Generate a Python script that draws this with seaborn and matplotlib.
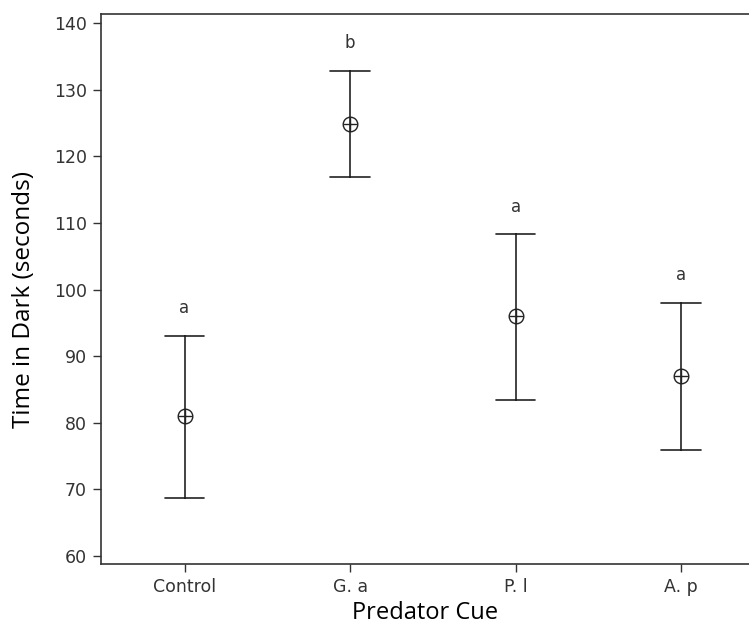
import numpy as np
import pandas as pd
import matplotlib
matplotlib.use("Agg")
import matplotlib.pyplot as plt
import seaborn as sns

# Data
cues = ["Control", "G. a", "P. l", "A. p"]
means = [81.0, 124.9, 96.0, 87.0]
lower = [68.7, 116.9, 83.5, 75.9]
upper = [93.1, 132.9, 108.3, 98.0]
letters = ["a", "b", "a", "a"]

# long format: lower / mean / upper per cue -> median = mean, full range = interval
df = pd.DataFrame({
    "cue": np.repeat(cues, 3),
    "time": np.ravel(np.column_stack([lower, means, upper])),
})

sns.set_style("white")
plt.rcParams["font.family"] = ["DejaVu Sans"]

fig = plt.figure(figsize=(7.49, 6.35), dpi=100)
ax = fig.add_axes([0.1348, 0.1118, 0.8652, 0.8662])

ink = "#222222"
sns.pointplot(data=df, x="cue", y="time", order=cues, estimator="median",
              errorbar=("pi", 100), capsize=0.24, linestyle="none",
              color=ink, marker="o", markersize=10.5, markerfacecolor="white",
              markeredgewidth=1.0, err_kws={"linewidth": 1.2}, ax=ax)
sns.pointplot(data=df, x="cue", y="time", order=cues, estimator="median",
              errorbar=None, linestyle="none", color=ink, marker="+",
              markersize=10.5, markeredgewidth=1.0, ax=ax)

for i, (u, l) in enumerate(zip(upper, letters)):
    ax.text(i, u + 2.8, l, ha="center", va="bottom", fontsize=12, color="#333333")

ax.set_ylim(58.8, 141.4)
ax.set_xlim(-0.505, 3.41)
ax.set_yticks(np.arange(60, 141, 10))

for side in ["top", "bottom", "left"]:
    ax.spines[side].set_visible(True)
    ax.spines[side].set_color("#333333")
    ax.spines[side].set_linewidth(1.2)
ax.spines["right"].set_visible(False)

ax.tick_params(axis="both", which="both", direction="out", length=6, width=1,
               color="#333333", labelsize=12.5, labelcolor="#333333", pad=4,
               left=True, bottom=True)

ax.set_xlabel("Predator Cue", fontsize=17, family="Open Sans", color="black",
              labelpad=4)
ax.set_ylabel("Time in Dark (seconds)", fontsize=17.5, family="Open Sans",
              color="black")
ax.yaxis.set_label_coords(-0.10, 0.48)

fig.savefig("out.png", dpi=100)
